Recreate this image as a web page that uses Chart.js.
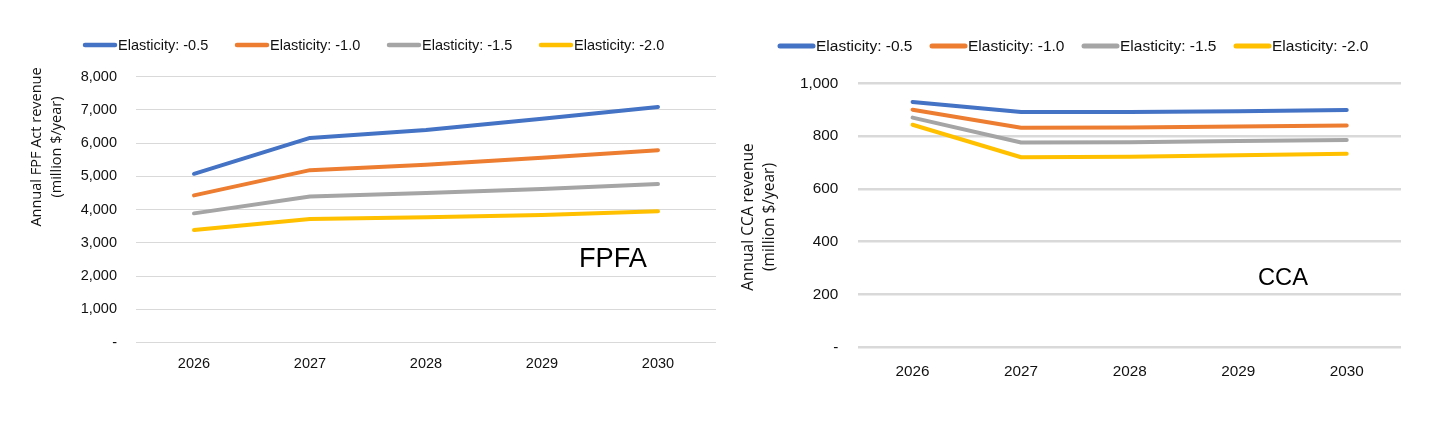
<!DOCTYPE html>
<html><head><meta charset="utf-8">
<script src="https://cdn.jsdelivr.net/npm/chart.js@4.4.1/dist/chart.umd.min.js"></script>
<style>
html,body{margin:0;padding:0;background:#fff;width:1432px;height:424px;overflow:hidden}
canvas{position:absolute;top:0}
#c1{left:0}
#c2{left:720px}
</style></head><body>
<canvas id="c1" width="720" height="424" style="width:720px;height:424px"></canvas>
<canvas id="c2" width="712" height="424" style="width:712px;height:424px"></canvas>
<script>
// ---- data ----
const years = ['2026', '2027', '2028', '2029', '2030'];
const seriesLabels = ['Elasticity: -0.5', 'Elasticity: -1.0', 'Elasticity: -1.5', 'Elasticity: -2.0'];
const seriesColors = ['#4472C4', '#ED7D31', '#A5A5A5', '#FFC000'];

const fpfaE05 = [5080, 6160, 6400, 6735, 7090];
const fpfaE10 = [4430, 5190, 5350, 5565, 5790];
const fpfaE15 = [3890, 4400, 4500, 4625, 4770];
const fpfaE20 = [3390, 3720, 3775, 3840, 3950];

const ccaE05 = [929, 891, 891, 894, 899];
const ccaE10 = [900, 832, 833, 836, 840];
const ccaE15 = [870, 776, 777, 781, 785];
const ccaE20 = [843, 720, 722, 727, 733];

const fpfaAxis = [0, 8000, 1000];   // min, max, step
const ccaAxis = [0, 1000, 200];

const fpfaTitle = ['Annual FPF Act revenue', '(million $/year)'];
const ccaTitle = ['Annual CCA revenue', '(million $/year)'];
const fpfaTag = 'FPFA';
const ccaTag = 'CCA';

// ---- helpers ----
function fmtTick(v) {
  if (v === 0) return '-';
  return v.toLocaleString('en-US');
}

function buildDatasets(arrs, lw) {
  return arrs.map((d, i) => ({
    label: seriesLabels[i],
    data: d,
    borderColor: seriesColors[i],
    backgroundColor: seriesColors[i],
    borderWidth: lw,
    pointRadius: 0,
    pointHoverRadius: 0,
    tension: 0,
    borderCapStyle: 'round',
    borderJoinStyle: 'round',
    fill: false
  }));
}

function overlay(cfg) {
  return {
    id: 'overlay',
    afterDraw(chart) {
      const ctx = chart.ctx;
      ctx.save();
      // legend
      chart.data.datasets.forEach((ds, i) => {
        const x0 = cfg.legX + i * cfg.legStep;
        ctx.strokeStyle = ds.borderColor;
        ctx.lineWidth = cfg.legLW;
        ctx.lineCap = 'round';
        ctx.beginPath();
        ctx.moveTo(x0 + 2, cfg.legY);
        ctx.lineTo(x0 + cfg.legLen - 2, cfg.legY);
        ctx.stroke();
        ctx.fillStyle = '#111';
        ctx.font = cfg.legFont;
        ctx.textAlign = 'left';
        ctx.textBaseline = 'middle';
        ctx.fillText(ds.label, x0 + cfg.legLen + 1, cfg.legY + 1);
      });
      // y title (two rotated lines)
      ctx.font = cfg.titleFont;
      ctx.fillStyle = '#111';
      ctx.textAlign = 'center';
      ctx.textBaseline = 'middle';
      cfg.title.forEach((t, i) => {
        ctx.save();
        ctx.translate(cfg.titleX[i], cfg.titleY);
        ctx.rotate(-Math.PI / 2);
        ctx.fillText(t, 0, 0);
        ctx.restore();
      });
      // tag text, clipped at a gridline
      const clipY = chart.scales.y.getPixelForValue(cfg.tagClipVal);
      ctx.save();
      ctx.beginPath();
      ctx.rect(0, 0, chart.width, clipY - 0.5);
      ctx.clip();
      let size = 30;
      ctx.font = size + 'px ' + cfg.tagFamily;
      let w = ctx.measureText(cfg.tag).width;
      size = size * cfg.tagW / w;
      ctx.font = size + 'px ' + cfg.tagFamily;
      const m = ctx.measureText(cfg.tag);
      ctx.fillStyle = '#000';
      ctx.textAlign = 'left';
      ctx.textBaseline = 'alphabetic';
      ctx.fillText(cfg.tag, cfg.tagX, cfg.tagTop + m.actualBoundingBoxAscent);
      ctx.restore();
      ctx.restore();
    }
  };
}

function makeChart(id, arrs, axis, p) {
  return new Chart(document.getElementById(id), {
    type: 'line',
    data: { labels: years, datasets: buildDatasets(arrs, p.lineW) },
    options: {
      responsive: false,
      animation: false,
      events: [],
      layout: { padding: { left: 0, top: p.top, right: p.right, bottom: 0 } },
      plugins: { legend: { display: false }, tooltip: { enabled: false }, title: { display: false } },
      scales: {
        x: {
          type: 'category',
          offset: true,
          grid: { display: false, drawTicks: false },
          border: { display: false },
          ticks: { color: '#111', font: { family: 'Liberation Sans, Arial, sans-serif', size: p.tickSize }, padding: p.xPad, maxRotation: 0 },
          afterFit(s) { s.height = 424 - p.bottom; }
        },
        y: {
          min: axis[0], max: axis[1],
          grid: { color: '#d9d9d9', lineWidth: p.gridW, drawTicks: false },
          border: { display: false },
          ticks: { stepSize: axis[2], color: '#111', font: { family: 'Liberation Sans, Arial, sans-serif', size: p.tickSize }, padding: p.yPad, callback: v => fmtTick(v) },
          afterFit(s) { s.width = p.left; }
        }
      }
    },
    plugins: [overlay(p.ov)]
  });
}

makeChart('c1', [fpfaE05, fpfaE10, fpfaE15, fpfaE20], fpfaAxis, {
  lineW: 4, top: 76.7, bottom: 342.7, left: 136, right: 720 - 716, tickSize: 14.5, xPad: 13, yPad: 19, gridW: 1,
  ov: {
    legX: 83, legStep: 152, legY: 45, legLen: 34, legLW: 4.5, legFont: '14.5px "Liberation Sans", Arial, sans-serif',
    title: fpfaTitle, titleX: [37, 57], titleY: 147, titleFont: '14.5px "Open Sans", sans-serif',
    tag: fpfaTag, tagX: 579, tagW: 68, tagTop: 255, tagClipVal: 2000, tagFamily: '"Liberation Sans Narrow", "Liberation Sans", sans-serif'
  }
});

makeChart('c2', [ccaE05, ccaE10, ccaE15, ccaE20], ccaAxis, {
  lineW: 4, top: 83.3, bottom: 347.3, left: 138.3, right: 712 - 681, tickSize: 15.3, xPad: 15, yPad: 20, gridW: 2.5,
  ov: {
    legX: 778 - 720, legStep: 152, legY: 46, legLen: 37, legLW: 5, legFont: '15.5px "Liberation Sans", Arial, sans-serif',
    title: ccaTitle, titleX: [749 - 720, 770 - 720], titleY: 217, titleFont: '15.5px "Open Sans", sans-serif',
    tag: ccaTag, tagX: 1258 - 720, tagW: 50, tagTop: 275, tagClipVal: 200, tagFamily: '"Liberation Sans Narrow", "Liberation Sans", sans-serif'
  }
});
</script>
</body></html>
